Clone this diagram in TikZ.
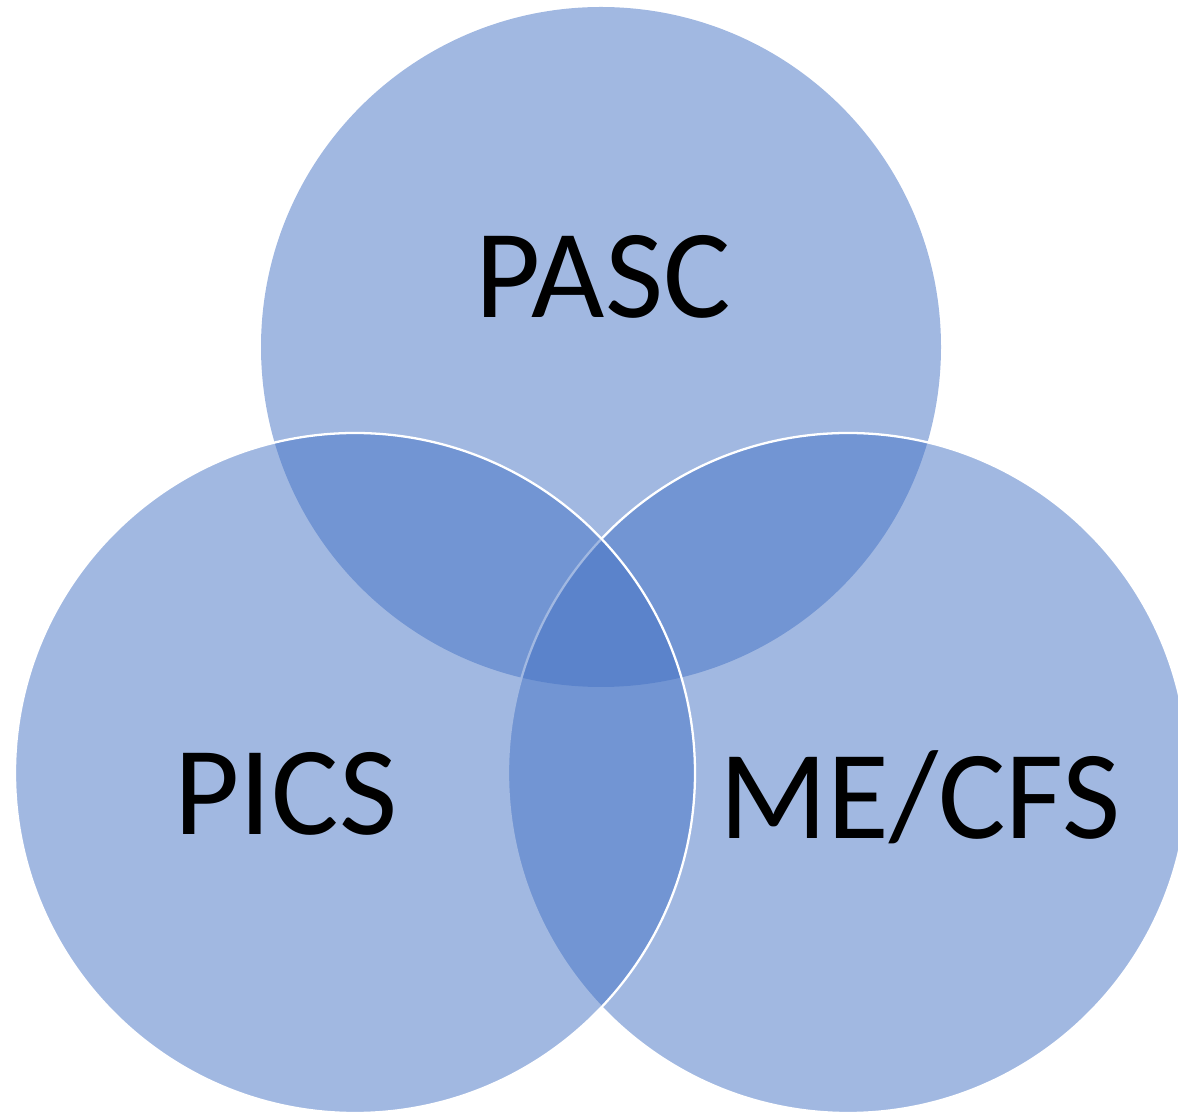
\documentclass[tikz,border=0pt]{standalone}
\usepackage{fontspec}
\setmainfont{Carlito}
\usetikzlibrary{positioning}
\definecolor{vennblue}{HTML}{4472C4}
\tikzset{every node/.style={align=center}}
\tikzset{set/.style={fill=vennblue, fill opacity=0.5}}
\tikzset{setline/.style={set, draw=white, draw opacity=1, line width=0.65pt}}
\tikzset{label/.style={font=\fontsize{36}{43}\selectfont, text=black}}

\begin{document}
\begin{tikzpicture}
		% Frame
		\useasboundingbox (0,0) rectangle (11.78,11.14);
		\clip (0,0) rectangle (11.78,11.14);

		% Coordinates
		\coordinate (top) at (6.01,7.67);
		\coordinate (left) at (3.55,3.41);
		\coordinate (right) at (8.48,3.41);

		% Circles
		\fill[set] (top) circle (3.40);
		\filldraw[setline] (right) circle (3.40);
		\filldraw[setline] (left) circle (3.40);

		% Nodes
		\node[label] (pasc) at (6.03,8.37) {PASC};
		\node[label] (pics) at (2.86,3.20) {PICS};
		\node[label] (mecfs) at (9.20,3.17) {ME/CFS};
	\end{tikzpicture}
\end{document}
